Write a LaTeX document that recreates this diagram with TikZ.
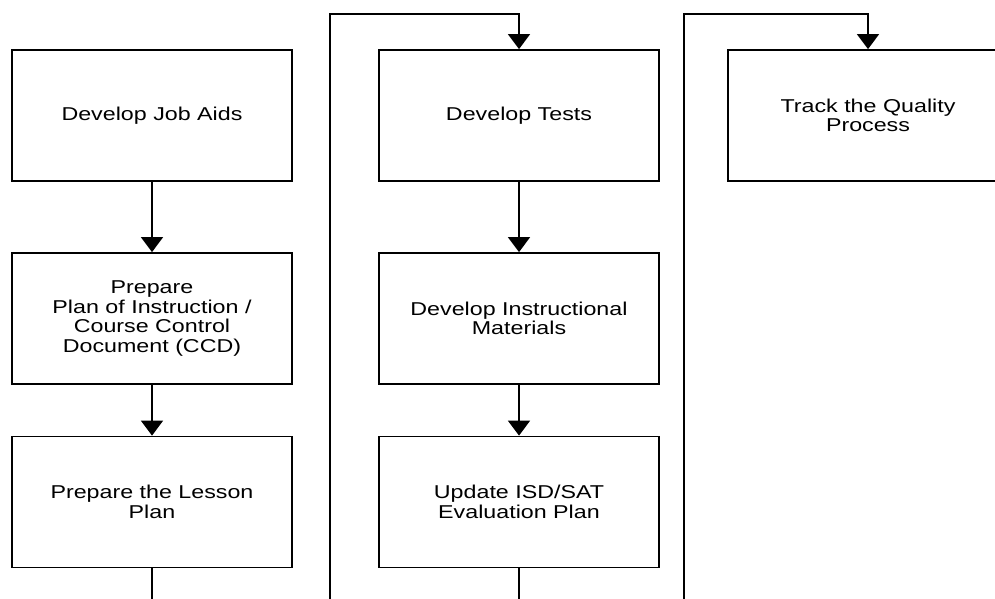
\documentclass[tikz,border=0pt]{standalone}
\usepackage{fontspec}
\setmainfont[FakeStretch=1.25]{Liberation Sans}
\usetikzlibrary{arrows.meta}
\tikzset{
  stepbox/.style={draw=black, line width=1.8pt, rectangle, minimum width=280pt, minimum height=131pt,
    align=center, inner sep=0pt, font=\fontsize{18.6}{19.5}\selectfont},
  flow/.style={draw=black, line width=1.8pt},
  arr/.style={flow, -{Triangle[width=22pt,length=15pt]}}
}
\begin{document}
\begin{tikzpicture}[x=1pt,y=-1pt]
\clip (0,0) rectangle (995,598);
\fill[white] (0,0) rectangle (995,598);
% column 1
\node[stepbox] (jobaids) at (152,115.5) {Develop Job Aids};
\node[stepbox] (poi) at (152,318.5) {Prepare\\Plan of Instruction /\\Course Control\\Document (CCD)};
\node[stepbox] (lesson) at (152,502) {Prepare the Lesson\\Plan};
% column 2
\node[stepbox] (tests) at (519,115.5) {Develop Tests};
\node[stepbox] (materials) at (519,318.5) {Develop Instructional\\Materials};
\node[stepbox] (update) at (519,502) {Update ISD/SAT\\Evaluation Plan};
% column 3
\node[stepbox] (track) at (868,115.5) {Track the Quality\\Process};
% free ends
\coordinate (c1out) at (152,610);
\coordinate (c2in) at (330,610);
\coordinate (c2out) at (519,610);
\coordinate (c3in) at (684,610);
% connectors
\draw[arr] (jobaids) -- (poi);
\draw[arr] (poi) -- (lesson);
\draw[flow] (lesson) -- (c1out);
\draw[arr] (tests) -- (materials);
\draw[arr] (materials) -- (update);
\draw[flow] (update) -- (c2out);
\draw[arr] (c2in) |- (519,14) -- (tests.north);
\draw[arr] (c3in) |- (868,14) -- (track.north);
\end{tikzpicture}
\end{document}
